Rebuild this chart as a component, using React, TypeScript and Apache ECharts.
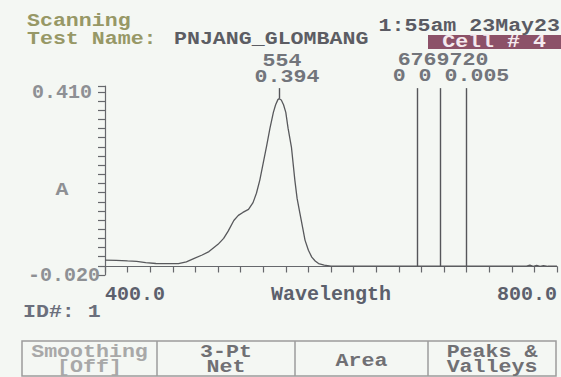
import React, { useEffect, useRef } from "react";
import * as echarts from "echarts";

// ---- data ----
const wavelengths = [
  400, 410, 420, 428, 436, 445, 455, 465, 472, 479, 486, 492, 500, 505, 509, 514, 518, 522, 527, 531,
  534, 537, 540, 543, 546, 549, 551, 553, 554, 556, 558, 560, 562, 565, 568, 570, 572.5, 575, 577, 580,
  583, 586, 589, 594, 600, 620, 650, 680, 700, 720, 750, 770, 773, 776, 779, 782, 785, 788, 792, 800,
];
const absorbance = [
  0.015, 0.0145, 0.013, 0.012, 0.009, 0.007, 0.0065, 0.0068, 0.011, 0.019, 0.027, 0.035, 0.052, 0.066, 0.083, 0.108, 0.12, 0.127, 0.134, 0.15,
  0.172, 0.203, 0.243, 0.283, 0.325, 0.362, 0.38, 0.392, 0.394, 0.391, 0.38, 0.362, 0.325, 0.28, 0.203, 0.16, 0.125, 0.09, 0.062, 0.038,
  0.022, 0.013, 0.007, 0.003, 0.001, 0.001, 0.001, 0.001, 0.001, 0.001, 0.001, 0.001, 0.001, 0.003, 0.0005, 0.0025, 0.0005, 0.002, 0.0005, 0.0005,
];
// peak pick results
const peakWavelength = [554];
const peakValue = [0.394];
const markerWavelengths = [676, 697, 720];
const markerValues = [0, 0, 0.005];
const markerTop = 0.419;

// axis labels
const xLabelValues = [400, 800];
const yTickLabels = ["-0.020", "0.410"]; // bottom, top
const yTickCount = 20;

// header / footer text
const headerTitle = "Scanning";
const testLabel = "Test Name:";
const testName = "PNJANG_GLOMBANG";
const timeStamp = "1:55am 23May23";
const cellText = "Cell # 4";
const peakLabelTop = "554";
const peakLabelBottom = "0.394";
const markerLabelTop = "6769720";
const markerLabelBottom = "0 0 0.005";
const idText = "ID#: 1";
const buttons = [["Smoothing", "[Off]"], ["3-Pt", "Net"], ["Area"], ["Peaks &", "Valleys"]];

const MONO = '"Liberation Mono", "DejaVu Sans Mono", monospace';
const FS = 18;
const SX = 1.2;
const AXFS = 20;

function txt(text: string, x: number, y: number, fill: string, align = "left") {
  return {
    type: "text",
    x,
    y,
    scaleX: SX,
    silent: true,
    style: {
      text,
      fill,
      font: `bold ${FS}px ${MONO}`,
      lineHeight: 14,
      textAlign: align,
      textVerticalAlign: "middle",
      align,
      verticalAlign: "middle",
    },
  };
}

export default function App() {
  const ref = useRef<HTMLDivElement>(null);

  useEffect(() => {
    const chart = echarts.init(ref.current!, null, { renderer: "svg" });
    const curve = wavelengths.map((w, i) => [w, absorbance[i]]);
    const valueAt = (w: number) => {
      for (let i = 0; i < wavelengths.length - 1; i++) {
        if (w >= wavelengths[i] && w <= wavelengths[i + 1]) {
          const t = (w - wavelengths[i]) / (wavelengths[i + 1] - wavelengths[i]);
          return absorbance[i] + t * (absorbance[i + 1] - absorbance[i]);
        }
      }
      return 0;
    };
    const markLines: any[] = [];
    peakWavelength.forEach((w, i) => {
      markLines.push([{ coord: [w, peakValue[i]] }, { coord: [w, markerTop] }]);
    });
    markerWavelengths.forEach((w) => {
      markLines.push([{ coord: [w, valueAt(w)] }, { coord: [w, markerTop] }]);
    });

    const axisColor = "#66686c";
    const btnX = [22, 157, 295, 428, 556];
    const graphic: any[] = [
      txt(headerTitle, 27, 21, "#979866"),
      txt(testLabel, 27, 39, "#979866"),
      txt(testName, 174, 39, "#5c5d63"),
      txt(timeStamp, 560, 26, "#5a5b63", "right"),
      { type: "rect", silent: true, shape: { x: 428, y: 35, width: 133, height: 14 }, style: { fill: "#8c5168" } },
      txt(cellText, 494, 42, "#f4e9ee", "center"),
      txt(peakLabelTop, 282, 61, "#72757b", "center"),
      txt(peakLabelBottom, 287, 77, "#72757b", "center"),
      txt(markerLabelTop, 443, 60, "#72757b", "center"),
      txt(markerLabelBottom, 451, 76, "#72757b", "center"),
      txt("A", 62, 190, "#8e9094", "center"),
      txt(idText, 23, 312, "#6b6f7c"),
      {
        type: "rect",
        silent: true,
        shape: { x: btnX[0], y: 341, width: btnX[4] - btnX[0], height: 35 },
        style: { fill: "none", stroke: "#9c9c9c", lineWidth: 1.5 },
      },
    ];
    for (let i = 1; i < 4; i++) {
      graphic.push({
        type: "line",
        silent: true,
        shape: { x1: btnX[i], y1: 341, x2: btnX[i], y2: 376 },
        style: { stroke: "#9c9c9c", lineWidth: 1.5 },
      });
    }
    buttons.forEach((lines, i) => {
      const cx = (btnX[i] + btnX[i + 1]) / 2;
      const color = i === 0 ? "#a8a8a8" : "#707074";
      if (lines.length === 1) graphic.push(txt(lines[0], cx, 361, color, "center"));
      else {
        graphic.push(txt(lines[0], cx, 352, color, "center"));
        graphic.push(txt(lines[1], cx, 367, color, "center"));
      }
    });

    const option: any = {
      animation: false,
      backgroundColor: "#f4f7f3",
      grid: { left: 105, right: 4, top: 86, bottom: 102 },
      xAxis: {
        type: "value",
        min: 400,
        max: 800,
        interval: 20,
        axisLine: { show: true, lineStyle: { color: axisColor, width: 1.2 } },
        axisTick: { show: true, length: 6, lineStyle: { color: axisColor, width: 1.2 } },
        splitLine: { show: false },
        axisLabel: {
          formatter: (v: number) => (xLabelValues.includes(v) ? v.toFixed(1) : ""),
          alignMinLabel: "left",
          alignMaxLabel: "right",
          margin: 9,
          color: "#5c606c",
          fontFamily: MONO,
          fontWeight: "bold",
          fontSize: AXFS,
        },
        name: "Wavelength",
        nameLocation: "middle",
        nameGap: 9,
        nameMoveOverlap: false,
        nameTextStyle: { color: "#5c606c", fontFamily: MONO, fontWeight: "bold", fontSize: AXFS, verticalAlign: "top" },
      },
      yAxis: [
        {
          type: "value",
          min: -0.02,
          max: 0.424,
          axisLine: { show: true, lineStyle: { color: axisColor, width: 1.2 } },
          axisTick: { show: false },
          axisLabel: { show: false },
          splitLine: { show: false },
        },
        {
          type: "value",
          position: "left",
          min: 0,
          max: yTickCount * (189 / 183),
          interval: 1,
          axisLine: { show: false },
          axisTick: { show: true, length: 7, lineStyle: { color: axisColor, width: 1.2 } },
          splitLine: { show: false },
          axisLabel: {
            margin: 5,
            color: "#8e9094",
            fontFamily: MONO,
            fontWeight: "bold",
            fontSize: AXFS,
            formatter: (v: number) =>
              v === 0 ? yTickLabels[0] : v === yTickCount ? "{t|" + yTickLabels[1] + "}" : "",
            rich: {
              t: { padding: [0, 8, 0, 0], color: "#8e9094", fontFamily: MONO, fontWeight: "bold", fontSize: AXFS },
            },
          },
        },
      ],
      series: [
        {
          type: "line",
          data: curve,
          showSymbol: false,
          yAxisIndex: 0,
          lineStyle: { color: "#58595c", width: 1.3 },
          silent: true,
          markLine: {
            silent: true,
            symbol: ["none", "none"],
            label: { show: false },
            lineStyle: { color: "#55565a", width: 1.4, type: "solid" },
            data: markLines,
          },
        },
      ],
      graphic,
    };
    chart.setOption(option);
    return () => chart.dispose();
  }, []);

  return (
    <div
      ref={ref}
      style={{ position: "absolute", left: 0, top: 0, width: 561, height: 377, background: "#f4f7f3" }}
    />
  );
}
